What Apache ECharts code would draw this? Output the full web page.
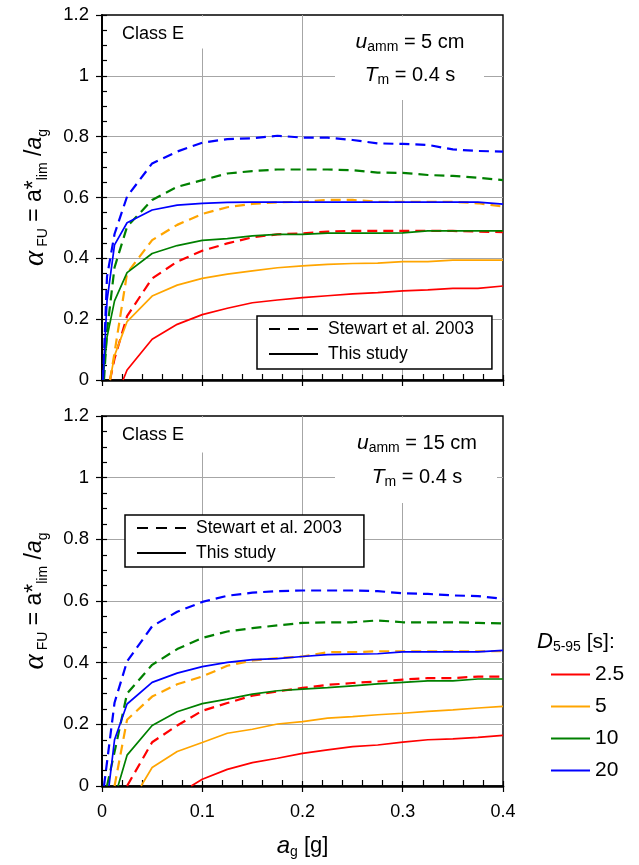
<!DOCTYPE html>
<html>
<head>
<meta charset="utf-8">
<script src="https://cdn.jsdelivr.net/npm/echarts@6/dist/echarts.min.js"></script>
<style>
  html, body { margin: 0; padding: 0; background: #ffffff; }
  #chart { width: 639px; height: 865px; }
</style>
</head>
<body>
<div id="chart"></div>
<script>
// Tick labels
const xTicks = [0, 0.1, 0.2, 0.3, 0.4];
const yTicks = [0, 0.2, 0.4, 0.6, 0.8, 1, 1.2];

// Duration classes D5-95 [s]
const durations = ['2.5', '5', '10', '20'];

// ---- u_amm = 5 cm : [a_g (g), alpha_FU] ----
// Stewart et al. 2003
const top_st_25 = [[0.008,0],[0.0125,0.07],[0.025,0.21],[0.05,0.334],[0.075,0.389],[0.1,0.425],[0.125,0.449],[0.15,0.469],[0.175,0.479],[0.2,0.482],[0.225,0.488],[0.25,0.49],[0.275,0.49],[0.3,0.49],[0.325,0.49],[0.35,0.49],[0.375,0.488],[0.4,0.486]];
const top_st_5 = [[0.008,0],[0.0125,0.09],[0.025,0.351],[0.05,0.46],[0.075,0.51],[0.1,0.546],[0.125,0.568],[0.15,0.579],[0.175,0.584],[0.2,0.586],[0.225,0.592],[0.25,0.592],[0.275,0.586],[0.3,0.586],[0.325,0.586],[0.35,0.586],[0.375,0.581],[0.4,0.57]];
const top_st_10 = [[0.002,0],[0.005,0.16],[0.0125,0.37],[0.025,0.504],[0.05,0.592],[0.075,0.635],[0.1,0.657],[0.125,0.679],[0.15,0.687],[0.175,0.692],[0.2,0.692],[0.225,0.692],[0.25,0.69],[0.275,0.682],[0.3,0.681],[0.325,0.674],[0.35,0.671],[0.375,0.665],[0.4,0.657]];
const top_st_20 = [[0.001,0],[0.005,0.34],[0.0125,0.48],[0.025,0.603],[0.05,0.712],[0.075,0.751],[0.1,0.78],[0.125,0.792],[0.15,0.795],[0.175,0.803],[0.2,0.797],[0.225,0.797],[0.25,0.789],[0.275,0.778],[0.3,0.776],[0.325,0.773],[0.35,0.758],[0.375,0.753],[0.4,0.751]];
// This study
const top_ts_25 = [[0.021,0],[0.025,0.033],[0.05,0.134],[0.075,0.183],[0.1,0.215],[0.125,0.236],[0.15,0.254],[0.175,0.263],[0.2,0.271],[0.225,0.277],[0.25,0.283],[0.275,0.287],[0.3,0.293],[0.325,0.296],[0.35,0.301],[0.375,0.301],[0.4,0.309]];
const top_ts_5 = [[0.008,0],[0.0125,0.08],[0.025,0.192],[0.05,0.276],[0.075,0.312],[0.1,0.334],[0.125,0.348],[0.15,0.359],[0.175,0.369],[0.2,0.375],[0.225,0.38],[0.25,0.383],[0.275,0.384],[0.3,0.389],[0.325,0.389],[0.35,0.394],[0.375,0.394],[0.4,0.394]];
const top_ts_10 = [[0.001,0],[0.005,0.14],[0.0125,0.26],[0.025,0.353],[0.05,0.416],[0.075,0.442],[0.1,0.459],[0.125,0.465],[0.15,0.474],[0.175,0.479],[0.2,0.479],[0.225,0.483],[0.25,0.483],[0.275,0.483],[0.3,0.484],[0.325,0.49],[0.35,0.49],[0.375,0.49],[0.4,0.49]];
const top_ts_20 = [[0.001,0],[0.005,0.26],[0.0125,0.444],[0.025,0.517],[0.05,0.559],[0.075,0.575],[0.1,0.581],[0.125,0.584],[0.15,0.585],[0.175,0.585],[0.2,0.585],[0.225,0.585],[0.25,0.585],[0.275,0.585],[0.3,0.585],[0.325,0.585],[0.35,0.585],[0.375,0.585],[0.4,0.578]];

// ---- u_amm = 15 cm ----
// Stewart et al. 2003
const bot_st_25 = [[0.025,0],[0.05,0.142],[0.075,0.196],[0.1,0.244],[0.125,0.269],[0.15,0.293],[0.175,0.307],[0.2,0.318],[0.225,0.328],[0.25,0.334],[0.275,0.339],[0.3,0.345],[0.325,0.35],[0.35,0.35],[0.375,0.355],[0.4,0.355]];
const bot_st_5 = [[0.0125,0],[0.025,0.215],[0.05,0.29],[0.075,0.33],[0.1,0.355],[0.125,0.39],[0.15,0.407],[0.175,0.415],[0.2,0.42],[0.225,0.434],[0.25,0.434],[0.275,0.437],[0.3,0.437],[0.325,0.437],[0.35,0.437],[0.375,0.437],[0.4,0.437]];
const bot_st_10 = [[0.005,0],[0.0125,0.11],[0.025,0.3],[0.05,0.393],[0.075,0.444],[0.1,0.48],[0.125,0.501],[0.15,0.512],[0.175,0.521],[0.2,0.529],[0.225,0.531],[0.25,0.531],[0.275,0.537],[0.3,0.531],[0.325,0.531],[0.35,0.531],[0.375,0.529],[0.4,0.527]];
const bot_st_20 = [[0.002,0],[0.0125,0.27],[0.025,0.404],[0.05,0.518],[0.075,0.565],[0.1,0.597],[0.125,0.617],[0.15,0.627],[0.175,0.632],[0.2,0.634],[0.225,0.634],[0.25,0.634],[0.275,0.632],[0.3,0.625],[0.325,0.623],[0.35,0.618],[0.375,0.616],[0.4,0.607]];
// This study
const bot_ts_25 = [[0.089,0],[0.1,0.022],[0.125,0.054],[0.15,0.076],[0.175,0.09],[0.2,0.106],[0.225,0.117],[0.25,0.128],[0.275,0.133],[0.3,0.142],[0.325,0.15],[0.35,0.153],[0.375,0.158],[0.4,0.164]];
const bot_ts_5 = [[0.039,0],[0.05,0.06],[0.075,0.112],[0.1,0.141],[0.125,0.171],[0.15,0.184],[0.175,0.201],[0.2,0.209],[0.225,0.22],[0.25,0.225],[0.275,0.231],[0.3,0.236],[0.325,0.242],[0.35,0.247],[0.375,0.253],[0.4,0.258]];
const bot_ts_10 = [[0.016,0],[0.025,0.1],[0.05,0.196],[0.075,0.241],[0.1,0.267],[0.125,0.282],[0.15,0.298],[0.175,0.309],[0.2,0.314],[0.225,0.319],[0.25,0.325],[0.275,0.331],[0.3,0.336],[0.325,0.341],[0.35,0.341],[0.375,0.347],[0.4,0.347]];
const bot_ts_20 = [[0.007,0],[0.0125,0.15],[0.025,0.266],[0.05,0.336],[0.075,0.366],[0.1,0.387],[0.125,0.401],[0.15,0.41],[0.175,0.413],[0.2,0.42],[0.225,0.426],[0.25,0.428],[0.275,0.429],[0.3,0.435],[0.325,0.435],[0.35,0.435],[0.375,0.435],[0.4,0.44]];

const COLORS = ['#ff0000', '#ffa500', '#008000', '#0000ff'];
const FONT = "'Liberation Sans', Arial, sans-serif";
const DASH = [10, 6];

const panels = [
  { st: [top_st_25, top_st_5, top_st_10, top_st_20], ts: [top_ts_25, top_ts_5, top_ts_10, top_ts_20], u: '5' },
  { st: [bot_st_25, bot_st_5, bot_st_10, bot_st_20], ts: [bot_ts_25, bot_ts_5, bot_ts_10, bot_ts_20], u: '15' }
];

const grids = [
  { left: 102, top: 15, width: 401, height: 365 },
  { left: 102, top: 416, width: 401, height: 370 }
].map(g => Object.assign(g, { show: true, borderColor: '#000', borderWidth: 1.4, backgroundColor: 'transparent', containLabel: false, outerBoundsMode: 'none' }));

const tickStyle = { color: '#000', width: 1.2 };

function xAxesFor(gi, withLabels) {
  const base = { type: 'value', gridIndex: gi, min: xTicks[0], max: xTicks[xTicks.length - 1], interval: 0.1, position: 'bottom' };
  const main = Object.assign({}, base, {
    axisLine: { show: true, onZero: false, lineStyle: { color: '#000', width: 2.6 } },
    axisTick: { show: true, inside: false, length: 6, lineStyle: tickStyle },
    axisLabel: { show: withLabels, color: '#000', fontSize: 18, fontFamily: FONT, margin: 17 },
    splitLine: { show: true, showMinLine: false, showMaxLine: false, lineStyle: { color: '#a6a6a6', width: 1 } }
  });
  if (withLabels) {
    Object.assign(main, {
      name: '{it|a}{sub|g}{n| [g]}',
      nameLocation: 'middle',
      nameGap: 47,
      nameTextStyle: {
        color: '#000',
        fontFamily: FONT,
        rich: {
          it: { fontSize: 24, fontStyle: 'italic', fontFamily: FONT, lineHeight: 26, color: '#000' },
          sub: { fontSize: 14, fontFamily: FONT, lineHeight: 16, verticalAlign: 'bottom', color: '#000' },
          n: { fontSize: 22, fontFamily: FONT, lineHeight: 26, color: '#000' }
        }
      }
    });
  }
  const inner = Object.assign({}, base, {
    axisLine: { show: false },
    axisTick: { show: true, inside: true, length: 5, lineStyle: tickStyle },
    minorTick: { show: true, splitNumber: 5, length: 6, lineStyle: tickStyle },
    axisLabel: { show: false },
    splitLine: { show: false }
  });
  return [main, inner];
}

function yAxesFor(gi) {
  const base = { type: 'value', gridIndex: gi, min: yTicks[0], max: yTicks[yTicks.length - 1], interval: 0.2, position: 'left' };
  const main = Object.assign({}, base, {
    axisLine: { show: true, onZero: false, lineStyle: { color: '#000', width: 2 } },
    axisTick: { show: true, inside: false, length: 6, lineStyle: tickStyle },
    axisLabel: { show: true, color: '#000', fontSize: 18.5, fontFamily: FONT, margin: 13 },
    splitLine: { show: true, showMinLine: false, showMaxLine: false, lineStyle: { color: '#a6a6a6', width: 1 } },
    name: '{al|α}{sub| FU}{n| = a*}{sub|lim}{n| /}{it|a}{sub|g}',
    nameLocation: 'middle',
    nameRotate: 90,
    nameGap: 52,
    nameTextStyle: {
      color: '#000',
      fontFamily: FONT,
      rich: {
        al: { fontSize: 29, fontStyle: 'italic', fontFamily: "'Liberation Serif', 'DejaVu Serif', serif", lineHeight: 30, color: '#000' },
        n: { fontSize: 23, fontFamily: FONT, lineHeight: 30, color: '#000' },
        it: { fontSize: 23, fontStyle: 'italic', fontFamily: FONT, lineHeight: 30, color: '#000' },
        sub: { fontSize: 14, fontFamily: FONT, lineHeight: 19, verticalAlign: 'bottom', color: '#000' }
      }
    }
  });
  const inner = Object.assign({}, base, {
    axisLine: { show: false },
    axisTick: { show: true, inside: true, length: 5, lineStyle: tickStyle },
    minorTick: { show: true, splitNumber: 4, length: 5, lineStyle: tickStyle },
    axisLabel: { show: false },
    splitLine: { show: false }
  });
  return [main, inner];
}

const xAxis = [...xAxesFor(0, false), ...xAxesFor(1, true)];
const yAxis = [...yAxesFor(0), ...yAxesFor(1)];

const series = [];
panels.forEach((p, gi) => {
  durations.forEach((d, k) => {
    series.push({
      name: 'Stewart ' + d + ' s, u ' + p.u + ' cm', type: 'line',
      xAxisIndex: gi * 2, yAxisIndex: gi * 2, data: p.st[k],
      symbol: 'none', color: COLORS[k], silent: true, z: 3,
      lineStyle: { color: COLORS[k], width: 2.2, type: DASH }
    });
  });
  durations.forEach((d, k) => {
    series.push({
      name: 'This study ' + d + ' s, u ' + p.u + ' cm', type: 'line',
      xAxisIndex: gi * 2, yAxisIndex: gi * 2, data: p.ts[k],
      symbol: 'none', color: COLORS[k], silent: true, z: 4,
      lineStyle: { color: COLORS[k], width: 1.7, type: 'solid' }
    });
  });
});

// Legend keys (no data of their own)
series.push({ name: 'Stewart et al. 2003', type: 'line', data: [], symbol: 'none', showSymbol: false, color: '#000', lineStyle: { color: '#000', width: 1.6, type: [11, 8] } });
series.push({ name: 'This study', type: 'line', data: [], symbol: 'none', showSymbol: false, color: '#000', lineStyle: { color: '#000', width: 1.6, type: 'solid' } });
durations.forEach((d, k) => {
  series.push({ name: d, type: 'line', data: [], symbol: 'none', showSymbol: false, color: COLORS[k], lineStyle: { color: COLORS[k], width: 2, type: 'solid' } });
});

// hide the marker dot on legend keys, keep only the line sample
const keyItemStyle = { color: 'transparent', borderColor: 'transparent', borderWidth: 0 };

const legendText = { color: '#000', fontFamily: FONT, fontSize: 17.5, lineHeight: 20, padding: [0, 0, 0, 5] };
const legendBox = {
  orient: 'vertical', itemWidth: 49, itemHeight: 14, itemGap: 5,
  selectedMode: false, backgroundColor: '#fff', borderColor: '#000', borderWidth: 1.5, borderRadius: 0,
  itemStyle: keyItemStyle,
  textStyle: legendText, data: ['Stewart et al. 2003', 'This study'], z: 12
};

const legend = [
  Object.assign({}, legendBox, { left: 257, top: 316, padding: [3, 18, 5, 11] }),
  Object.assign({}, legendBox, { left: 125, top: 515, padding: [3, 22, 4, 11] }),
  {
    orient: 'vertical', left: 550, top: 664, itemWidth: 39, itemHeight: 14, itemGap: 11,
    selectedMode: false, padding: 0, itemStyle: keyItemStyle,
    textStyle: { color: '#000', fontFamily: FONT, fontSize: 21, lineHeight: 20 },
    data: durations
  }
];

// Annotation boxes: white panels that hide the grid behind the text
const annoRich = {
  it: { fontSize: 21, fontStyle: 'italic', fontFamily: FONT, lineHeight: 24, fill: '#000' },
  sub: { fontSize: 14, fontFamily: FONT, lineHeight: 14, verticalAlign: 'bottom', fill: '#000' },
  n: { fontSize: 20, fontFamily: FONT, lineHeight: 24, fill: '#000' }
};

function panelNotes(top, classBoxH, uBox, uCenter, uRows, uText) {
  return [
    { type: 'rect', z: 10, shape: { x: 109, y: top + 1.5, width: 125, height: classBoxH }, style: { fill: '#fff' } },
    { type: 'text', z: 11, x: 122, y: top + 19, style: { text: 'Class E', font: "18px 'Liberation Sans', Arial, sans-serif", fill: '#000', verticalAlign: 'middle' } },
    { type: 'rect', z: 10, shape: uBox, style: { fill: '#fff' } },
    { type: 'text', z: 11, x: uCenter, y: uRows[0], style: { text: '{it|u}{sub|amm}{n| = ' + uText + ' cm}', rich: annoRich, align: 'center', verticalAlign: 'middle' } },
    { type: 'text', z: 11, x: uCenter, y: uRows[1], style: { text: '{it|T}{sub|m}{n| = 0.4 s}', rich: annoRich, align: 'center', verticalAlign: 'middle' } }
  ];
}

const graphic = [
  ...panelNotes(15, 32, { x: 335, y: 16.5, width: 149, height: 83.5 }, 410, [42, 75], panels[0].u),
  ...panelNotes(416, 35, { x: 335, y: 417.5, width: 162, height: 85.5 }, 417, [443, 477], panels[1].u),
  {
    type: 'text', z: 11, x: 537, y: 642,
    style: {
      text: '{it|D}{sub|5-95}{n| [s]:}', verticalAlign: 'middle',
      rich: {
        it: { fontSize: 22, fontStyle: 'italic', fontFamily: FONT, lineHeight: 24, fill: '#000' },
        sub: { fontSize: 14, fontFamily: FONT, lineHeight: 15, verticalAlign: 'bottom', fill: '#000' },
        n: { fontSize: 21, fontFamily: FONT, lineHeight: 24, fill: '#000' }
      }
    }
  }
];

const chart = echarts.init(document.getElementById('chart'), null, { renderer: 'canvas' });
chart.setOption({
  animation: false,
  backgroundColor: '#fff',
  textStyle: { fontFamily: FONT, color: '#000' },
  grid: grids,
  xAxis: xAxis,
  yAxis: yAxis,
  legend: legend,
  series: series,
  graphic: graphic,
  tooltip: { show: false }
});
</script>
</body>
</html>
